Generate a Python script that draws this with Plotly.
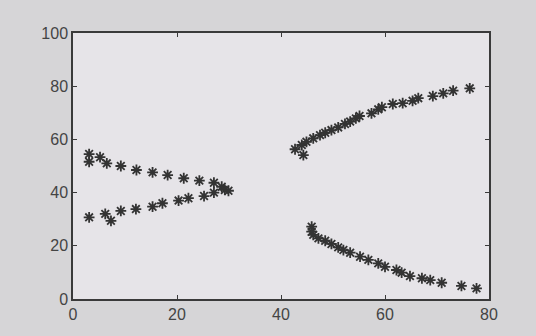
import plotly.graph_objects as go

# Upper-left branch
ul_x = [3.1, 3.1, 5.2, 6.5, 9.2, 12.2, 15.3, 18.2, 21.3, 24.3, 27.1, 28.6, 29.2, 29.9]
ul_y = [54.5, 51.6, 53.3, 51.0, 50.0, 48.5, 47.6, 46.6, 45.4, 44.5, 43.7, 42.2, 41.0, 40.7]
# Lower-left branch
ll_x = [3.1, 6.2, 7.3, 9.2, 12.1, 15.3, 17.2, 20.3, 22.2, 25.2, 27.1]
ll_y = [30.7, 32.0, 29.4, 33.1, 33.8, 34.7, 36.0, 37.0, 37.9, 38.7, 40.0]
# Upper-right branch
ur_x = [42.7, 44.3, 44.0, 44.9, 46.2, 47.5, 48.5, 49.7, 51.0, 52.3, 53.3, 54.4, 55.1,
        57.4, 58.7, 59.4, 61.5, 63.4, 65.3, 66.4, 69.2, 71.2, 73.1, 76.3]
ur_y = [56.3, 54.1, 57.9, 59.1, 60.4, 61.6, 62.5, 63.5, 64.5, 65.8, 66.7, 67.9, 68.8,
        69.8, 71.3, 72.1, 73.3, 73.6, 74.5, 75.5, 76.3, 77.3, 78.3, 79.2]
# Lower-right branch
lr_x = [45.9, 45.9, 46.2, 47.2, 48.5, 49.7, 51.0, 52.0, 53.3, 55.2, 56.8, 58.7, 60.0,
        62.2, 63.2, 64.8, 67.1, 68.7, 70.9, 74.7, 77.6]
lr_y = [27.2, 25.3, 24.1, 22.8, 21.9, 20.7, 19.4, 18.4, 17.4, 15.9, 14.7, 13.4, 12.1,
        10.9, 9.9, 8.6, 7.8, 7.1, 6.1, 4.9, 4.0]

x_ticks = [0, 20, 40, 60, 80]
y_ticks = [0, 20, 40, 60, 80, 100]

fig = go.Figure()
for xs, ys in [(ul_x, ul_y), (ll_x, ll_y), (ur_x, ur_y), (lr_x, lr_y)]:
    fig.add_trace(go.Scatter(
        x=xs, y=ys, mode="markers",
        marker=dict(symbol="asterisk-open", size=9, color="#333333",
                    line=dict(color="#333333", width=1.8)),
        showlegend=False, hoverinfo="skip"))

axis_common = dict(showgrid=False, zeroline=False, showline=True, mirror="ticks",
                   linecolor="#3a3a3a", linewidth=1.5, ticks="inside", ticklen=4,
                   tickcolor="#3a3a3a",
                   tickfont=dict(family="Liberation Sans Narrow, Liberation Sans, Arial",
                                 size=16, color="#444444"))

fig.update_xaxes(range=[0, 80], tickvals=x_ticks, **axis_common)
fig.update_yaxes(range=[0, 100], tickvals=y_ticks, **axis_common)

fig.update_layout(
    width=536, height=336,
    margin=dict(l=73, r=47, t=33, b=37),
    paper_bgcolor="#d6d5d7",
    plot_bgcolor="#e6e4e8",
)

fig.write_html("out.html",
               config={"displayModeBar": False},
               post_script="document.body.style.margin='0';"
                           "document.body.style.background='#d6d5d7';")
